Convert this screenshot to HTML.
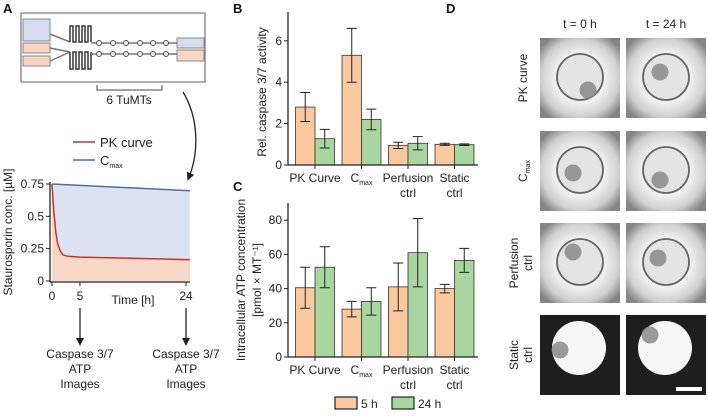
<!DOCTYPE html>
<html><head><meta charset="utf-8"><style>
body{margin:0;background:#fff;}
svg{display:block;font-family:"Liberation Sans",sans-serif;}
</style></head><body>
<svg width="708" height="416" viewBox="0 0 708 416" id="fig">
<defs>
<marker id="ah" markerWidth="8" markerHeight="8" refX="4" refY="4" orient="auto" markerUnits="userSpaceOnUse"><path d="M0,0 L8,4 L0,8 Z" fill="#222"/></marker>
<radialGradient id="well" cx="50%" cy="50%" r="62%"><stop offset="0" stop-color="#e6e6e6"/><stop offset="0.5" stop-color="#f0f0f0"/><stop offset="0.78" stop-color="#d0d0d0"/><stop offset="1" stop-color="#858585"/></radialGradient>
</defs>
<g font-weight="bold" font-size="13" fill="#111">
<text x="3" y="13">A</text>
<text x="233" y="13">B</text>
<text x="233" y="191">C</text>
<text x="446" y="13">D</text>
</g>

<g>
<rect x="21" y="13" width="184" height="69" fill="#fff" stroke="#777" stroke-width="1.2"/>
<rect x="23" y="19" width="27" height="22" fill="#d6dcf0" stroke="#888"/>
<rect x="23" y="43" width="27" height="10" fill="#f7d6c4" stroke="#888"/>
<rect x="23" y="56" width="27" height="10" fill="#f7d6c4" stroke="#888"/>
<rect x="177" y="38" width="27" height="10" fill="#d6dcf0" stroke="#888"/>
<rect x="177" y="50" width="27" height="11" fill="#f7d6c4" stroke="#888"/>
<path d="M50,34 L70,42 M50,48 L70,52 M50,61 L70,52" stroke="#777" stroke-width="1.5" fill="none"/>
<path d="M70,42 v-16 h3 v16 h3 v-16 h3 v16 h3 v-16 h3 v16 h3 v-16 h3 v16" stroke="#333" stroke-width="1.5" fill="none"/>
<path d="M70,52 v17 h3 v-17 h3 v17 h3 v-17 h3 v17 h3 v-17 h3 v17 h3 v-17" stroke="#333" stroke-width="1.5" fill="none"/>
<path d="M91,43 H177 M91,54 H177" stroke="#777" stroke-width="1.5"/>
<g fill="#eee" stroke="#555">
<circle cx="99" cy="43" r="2.5"/><circle cx="113" cy="43" r="2.5"/><circle cx="126" cy="43" r="2.5"/><circle cx="140" cy="43" r="2.5"/><circle cx="153" cy="43" r="2.5"/><circle cx="166" cy="43" r="2.5"/>
<circle cx="99" cy="54" r="2.5"/><circle cx="113" cy="54" r="2.5"/><circle cx="126" cy="54" r="2.5"/><circle cx="140" cy="54" r="2.5"/><circle cx="153" cy="54" r="2.5"/><circle cx="166" cy="54" r="2.5"/>
</g>
<path d="M97,85 v5 H162 v-5" stroke="#444" fill="none"/>
<text x="129" y="104" font-size="12" text-anchor="middle" fill="#222">6 TuMTs</text>
</g>
<path d="M183,92 C200,120 198,155 189,177" stroke="#222" stroke-width="1.3" fill="none" marker-end="url(#ah)"/>

<g id="chartA"></g>
<g>
<line x1="73" y1="142" x2="95" y2="142" stroke="#c83232" stroke-width="1.5"/>
<text x="100" y="147" font-size="13" fill="#222">PK curve</text>
<line x1="73" y1="160" x2="95" y2="160" stroke="#4a70a8" stroke-width="1.5"/>
<text x="100" y="165" font-size="13" fill="#222">C<tspan font-size="7" dy="3">max</tspan></text>
</g>
<g font-size="12" fill="#222" text-anchor="middle">
<line x1="80" y1="308" x2="80" y2="342" stroke="#222" stroke-width="1.3" marker-end="url(#ah)"/>
<line x1="186" y1="308" x2="186" y2="342" stroke="#222" stroke-width="1.3" marker-end="url(#ah)"/>
<text x="80" y="358">Caspase 3/7</text><text x="80" y="373">ATP</text><text x="80" y="388">Images</text>
<text x="186" y="358">Caspase 3/7</text><text x="186" y="373">ATP</text><text x="186" y="388">Images</text>
</g>

<g id="chartB"></g>
<g id="chartC"></g>
<g font-size="12" fill="#222">
<rect x="335" y="397" width="22" height="12" fill="#fbc9a0" stroke="#222" stroke-width="1.2"/>
<text x="361" y="408">5 h</text>
<rect x="392" y="397" width="22" height="12" fill="#a8d5a0" stroke="#222" stroke-width="1.2"/>
<text x="418" y="408">24 h</text>
</g>

<g font-size="12" fill="#222" text-anchor="middle">
<text x="580" y="28">t = 0 h</text>
<text x="666" y="28">t = 24 h</text>
<text transform="translate(527,78) rotate(-90)">PK curve</text>
<text transform="translate(527,171) rotate(-90)">C<tspan font-size="7" dy="3">max</tspan></text>
<text transform="translate(518,263) rotate(-90)">Perfusion</text>
<text transform="translate(532,263) rotate(-90)">ctrl</text>
<text transform="translate(518,355) rotate(-90)">Static</text>
<text transform="translate(532,355) rotate(-90)">ctrl</text>
</g>
<g id="images"></g>
</svg>
<script>
const timeH=[0,0.3,0.7,1,1.5,2,3,5,10,15,20,24];
const pkConc=[0.75,0.55,0.37,0.29,0.23,0.2,0.19,0.185,0.18,0.175,0.17,0.165];
const cmaxTime=[0,24];
const cmaxConc=[0.75,0.70];
const aYTicks=[0,0.25,0.5,0.75];
const aYTickLabels=["0","0.25","0.5","0.75"];
const aXTicks=[0,5,24];
const groups=["PK Curve","C_max","Perfusion","Static"];
const groupLine2=["","","ctrl","ctrl"];
const casp5=[2.8,5.3,0.95,1.0];
const casp5Err=[0.7,1.3,0.15,0.05];
const casp24=[1.27,2.2,1.05,0.98];
const casp24Err=[0.45,0.5,0.32,0.04];
const bTicks=[0,2,4,6];
const atp5=[40.5,28,41,40];
const atp5Err=[12,4.5,14,2.5];
const atp24=[52.5,32.5,61,56.5];
const atp24Err=[12,8,20,7];
const cTicks=[0,20,40,60,80];

const NS="http://www.w3.org/2000/svg";
const FS=12;
function mk(tag,attrs,parent){const e=document.createElementNS(NS,tag);for(const k in attrs)e.setAttribute(k,attrs[k]);parent.appendChild(e);return e;}

(function(){
const g=document.getElementById('chartA');
const x=t=>52+t*(186-52)/24, y=v=>281-v*(281-184)/0.75;
let top='M'+x(0)+','+y(cmaxConc[0])+' L'+x(24.7)+','+y(cmaxConc[1]-0.002)+' L'+x(24.7)+','+y(0)+' L'+x(0)+','+y(0)+'Z';
const bg=mk('path',{d:top,fill:'#dde2f3'},g);


let pk=timeH.map((t,i)=>(i?'L':'M')+x(t)+','+y(pkConc[i])).join(' ')+' L'+x(24.7)+','+y(pkConc[pkConc.length-1]);
const ar=mk('path',{d:pk+' L'+x(24.7)+','+y(0)+' L'+x(0)+','+y(0)+'Z',fill:'#f8d9c8'},g);


const cl=mk('path',{d:'M'+x(cmaxTime[0])+','+y(cmaxConc[0])+' L'+x(24.7)+','+y(cmaxConc[1]-0.002),stroke:'#4a70a8','stroke-width':1.5,fill:'none'},g);


const pl=mk('path',{d:pk,stroke:'#c83232','stroke-width':1.5,fill:'none'},g);


mk('line',{x1:50,y1:182,x2:50,y2:282,stroke:'#222','stroke-width':1.3},g);
mk('line',{x1:50,y1:282,x2:190,y2:282,stroke:'#222','stroke-width':1.3},g);
aYTicks.forEach((v,i)=>{mk('line',{x1:46,y1:y(v),x2:50,y2:y(v),stroke:'#222'},g);const t=mk('text',{x:44,y:y(v)+4,'font-size':FS,'text-anchor':'end',fill:'#222'},g);t.textContent=aYTickLabels[i];});
aXTicks.forEach(v=>{mk('line',{x1:x(v),y1:282,x2:x(v),y2:286,stroke:'#222'},g);const t=mk('text',{x:x(v),y:300,'font-size':FS,'text-anchor':'middle',fill:'#222'},g);t.textContent=v;});
let tt=mk('text',{x:133,y:304,'font-size':FS,'text-anchor':'middle',fill:'#222'},g);tt.textContent='Time [h]';


let yt=mk('text',{transform:'translate(12,232) rotate(-90)','font-size':FS,'text-anchor':'middle',fill:'#222'},g);yt.textContent='Staurosporin conc. [µM]';


})();

function barChart(id,y0,yPerUnit,yTop,d5,e5,d24,e24,ticks,labelY){
const g=document.getElementById(id);
const cx=i=>315+i*46.5, y=v=>y0-v*yPerUnit, bw=19.5;
[[d5,e5,'#fbc9a0',-1],[d24,e24,'#a8d5a0',0]].forEach(([d,e,c,off],s)=>{
d.forEach((v,i)=>{
const xl=cx(i)+off*bw;
const r=mk('rect',{x:xl,y:y(v),width:bw,height:y0-y(v),fill:c,stroke:'#333','stroke-width':0.8},g);


const m=xl+bw/2,hi=y(v+e[i]),lo=y(v-e[i]);
const eb=mk('path',{d:`M${m},${hi} V${lo} M${m-5},${hi} H${m+5} M${m-5},${lo} H${m+5}`,stroke:'#222','stroke-width':1,fill:'none'},g);


});});
mk('line',{x1:288,y1:yTop,x2:288,y2:y0,stroke:'#222','stroke-width':1.3},g);
mk('line',{x1:288,y1:y0,x2:478,y2:y0,stroke:'#222','stroke-width':1.3},g);
ticks.forEach(v=>{mk('line',{x1:284,y1:y(v),x2:288,y2:y(v),stroke:'#222'},g);const t=mk('text',{x:282,y:y(v)+4,'font-size':FS,'text-anchor':'end',fill:'#222'},g);t.textContent=v;});
groups.forEach((n,i)=>{
mk('line',{x1:cx(i),y1:y0,x2:cx(i),y2:y0+4,stroke:'#222'},g);
const t=mk('text',{x:cx(i),y:labelY,'font-size':FS,'text-anchor':'middle',fill:'#222'},g);
if(n==='C_max'){t.textContent='C';const ts=mk('tspan',{'font-size':7,dy:3},t);ts.textContent='max';}
else t.textContent=n;
if(groupLine2[i]){const t2=mk('text',{x:cx(i),y:labelY+15,'font-size':FS,'text-anchor':'middle',fill:'#222'},g);t2.textContent=groupLine2[i];}
});
}
barChart('chartB',165,20.7,12,casp5,casp5Err,casp24,casp24Err,bTicks,182);
barChart('chartC',357,1.71,203,atp5,atp5Err,atp24,atp24Err,cTicks,374);
(function(){
const gb=document.getElementById('chartB');
const t=mk('text',{transform:'translate(266,92) rotate(-90)','font-size':FS,'text-anchor':'middle',fill:'#222'},gb);t.textContent='Rel. caspase 3/7 activity';


const gc=document.getElementById('chartC');
const t1=mk('text',{transform:'translate(245,280) rotate(-90)','font-size':FS,'text-anchor':'middle',fill:'#222'},gc);t1.textContent='Intracellular ATP concentration';


const t2=mk('text',{transform:'translate(261,280) rotate(-90)','font-size':FS,'text-anchor':'middle',fill:'#222'},gc);t2.textContent='[pmol × MT⁻¹]';
})();

(function(){
const g=document.getElementById('images');
const cols=[540,626], rows=[38,131,223,315];
const spheroid=[[[48,52],[34,34]],[[33,42],[34,49]],[[33,29],[32,35]],[[20,35],[24,20]]];
rows.forEach((ry,r)=>cols.forEach((cxp,c)=>{
const im=mk('g',{},g);


if(r<3){
mk('rect',{x:cxp,y:ry,width:80,height:80,fill:'url(#well)'},im);
mk('circle',{cx:cxp+40,cy:ry+39,r:23,fill:'#e4e4e4',stroke:'#666','stroke-width':1.8},im);
}else{
mk('rect',{x:cxp,y:ry,width:80,height:80,fill:'#1e1e1e'},im);
mk('circle',{cx:cxp+39,cy:ry+33,r:27,fill:'#f6f6f6'},im);
}
const [sx,sy]=spheroid[r][c];
mk('circle',{cx:cxp+sx,cy:ry+sy,r:8.5,fill:'#8a8a8a',opacity:0.85},im);
}));
mk('rect',{x:676,y:387,width:26,height:4,fill:'#fff'},g);
})();
</script>
</body></html>
